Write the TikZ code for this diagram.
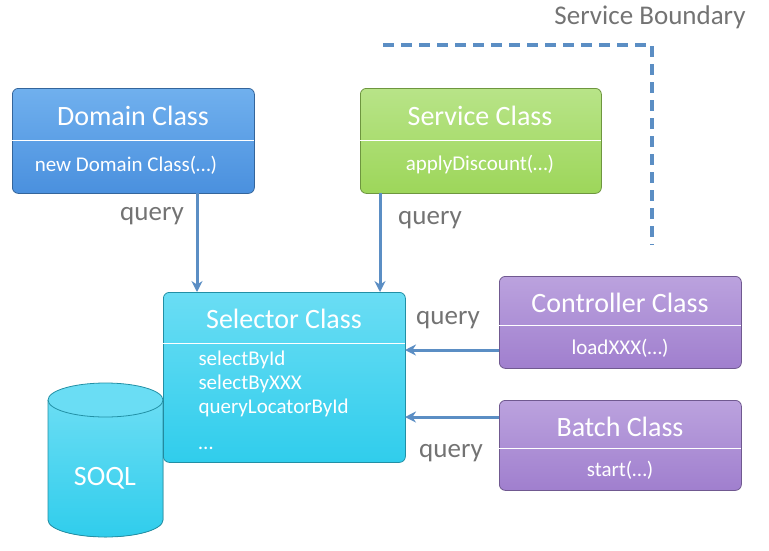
\documentclass[tikz,border=0pt]{standalone}
\usepackage{fontspec}
\setmainfont{Carlito}
\usetikzlibrary{arrows.meta}
\begin{document}
\begin{tikzpicture}[x=1pt,y=-1pt,
 box/.style={draw=#1!70!black,rounded corners=6pt,line width=0.8pt},
 hdr/.style={text=white,font=\fontsize{28}{32}\selectfont},
 itm/.style={text=white,font=\fontsize{21}{24}\selectfont},
 lbl/.style={text=black!55,font=\fontsize{27}{30}\selectfont}]
\useasboundingbox (0,0) rectangle (769,550);
\definecolor{dom}{HTML}{4A90DE}\definecolor{dom2}{HTML}{70B0EE}
\definecolor{svc}{HTML}{9DD65A}\definecolor{svc2}{HTML}{B8E488}
\definecolor{sel}{HTML}{30CDEC}\definecolor{sel2}{HTML}{6ADDF4}
\definecolor{pur}{HTML}{A07FCE}\definecolor{pur2}{HTML}{BBA2DE}
\definecolor{arrc}{HTML}{5B8EC4}
\tikzset{arr/.style={draw=arrc,line width=3pt,-{Stealth[length=11pt,width=11pt]}}}
% Domain
\node[box=dom,top color=dom2,bottom color=dom,minimum width=242,minimum height=105,anchor=north west] (dom) at (12,88) {};
\draw[white,line width=1pt] (12,140) -- (254,140);
\node[hdr] (domh) at (133,116) {Domain Class};
\node[itm] (domi) at (126,165) {new Domain Class(…)};
% Service
\node[box=svc,top color=svc2,bottom color=svc,minimum width=241,minimum height=105,anchor=north west] (svc) at (360,88) {};
\draw[white,line width=1pt] (360,140) -- (601,140);
\node[hdr] (svch) at (480,116) {Service Class};
\node[itm] (svci) at (480,165) {applyDiscount(…)};
% Selector
\node[box=sel,top color=sel2,bottom color=sel,minimum width=242,minimum height=170,anchor=north west] (sel) at (163,292) {};
\draw[white,line width=1pt] (163,343) -- (405,343);
\node[hdr] (selh) at (284,319) {Selector Class};
\node[itm,anchor=west] (s1) at (195,360) {selectById};
\node[itm,anchor=west] (s2) at (195,384) {selectByXXX};
\node[itm,anchor=west] (s3) at (195,408) {queryLocatorById};
\node[itm,anchor=west] (s4) at (195,448) {…};
% SOQL cylinder
\fill[top color=sel2,bottom color=sel] (48,400) -- (48,520) arc[start angle=180,end angle=0,x radius=57.5,y radius=17] -- (163,400) -- cycle;
\draw[sel!70!black,line width=0.8pt] (48,400) -- (48,520) arc[start angle=180,end angle=0,x radius=57.5,y radius=17] -- (163,400);
\draw[sel!70!black,fill=sel2,line width=0.8pt] (105.5,400) ellipse[x radius=57.5,y radius=17];
\node[hdr] (soql) at (105,478) {SOQL};
% Controller
\node[box=pur,top color=pur2,bottom color=pur,minimum width=242,minimum height=92,anchor=north west] (ctl) at (499,276) {};
\draw[white,line width=1pt] (499,325) -- (741,325);
\node[hdr] (ctlh) at (620,303) {Controller Class};
\node[itm] (ctli) at (620,348) {loadXXX(…)};
% Batch
\node[box=pur,top color=pur2,bottom color=pur,minimum width=242,minimum height=90,anchor=north west] (bat) at (499,400) {};
\draw[white,line width=1pt] (499,448) -- (741,448);
\node[hdr] (bath) at (620,427) {Batch Class};
\node[itm] (bati) at (620,470) {start(…)};
% arrows
\coordinate (a1) at (197,193); \coordinate (b1) at (197,292);
\coordinate (a2) at (380,193); \coordinate (b2) at (380,292);
\coordinate (a3) at (499,350); \coordinate (b3) at (405,350);
\coordinate (a4) at (499,417); \coordinate (b4) at (405,417);
\draw[arr] (a1) -- (b1); \draw[arr] (a2) -- (b2);
\draw[arr] (a3) -- (b3); \draw[arr] (a4) -- (b4);
\node[lbl] (q1) at (152,216) {query};
\node[lbl] (q2) at (430,220) {query};
\node[lbl] (q3) at (448,320) {query};
\node[lbl] (q4) at (451,453) {query};
% boundary
\coordinate (d1) at (383,45); \coordinate (d2) at (652,45); \coordinate (d3) at (652,245);
\draw[arrc,line width=3.5pt,dash pattern=on 11pt off 7pt] (d1) -- (d2) -- (d3);
\node[lbl] (sb) at (650,17) {Service Boundary};
\end{tikzpicture}
\end{document}
